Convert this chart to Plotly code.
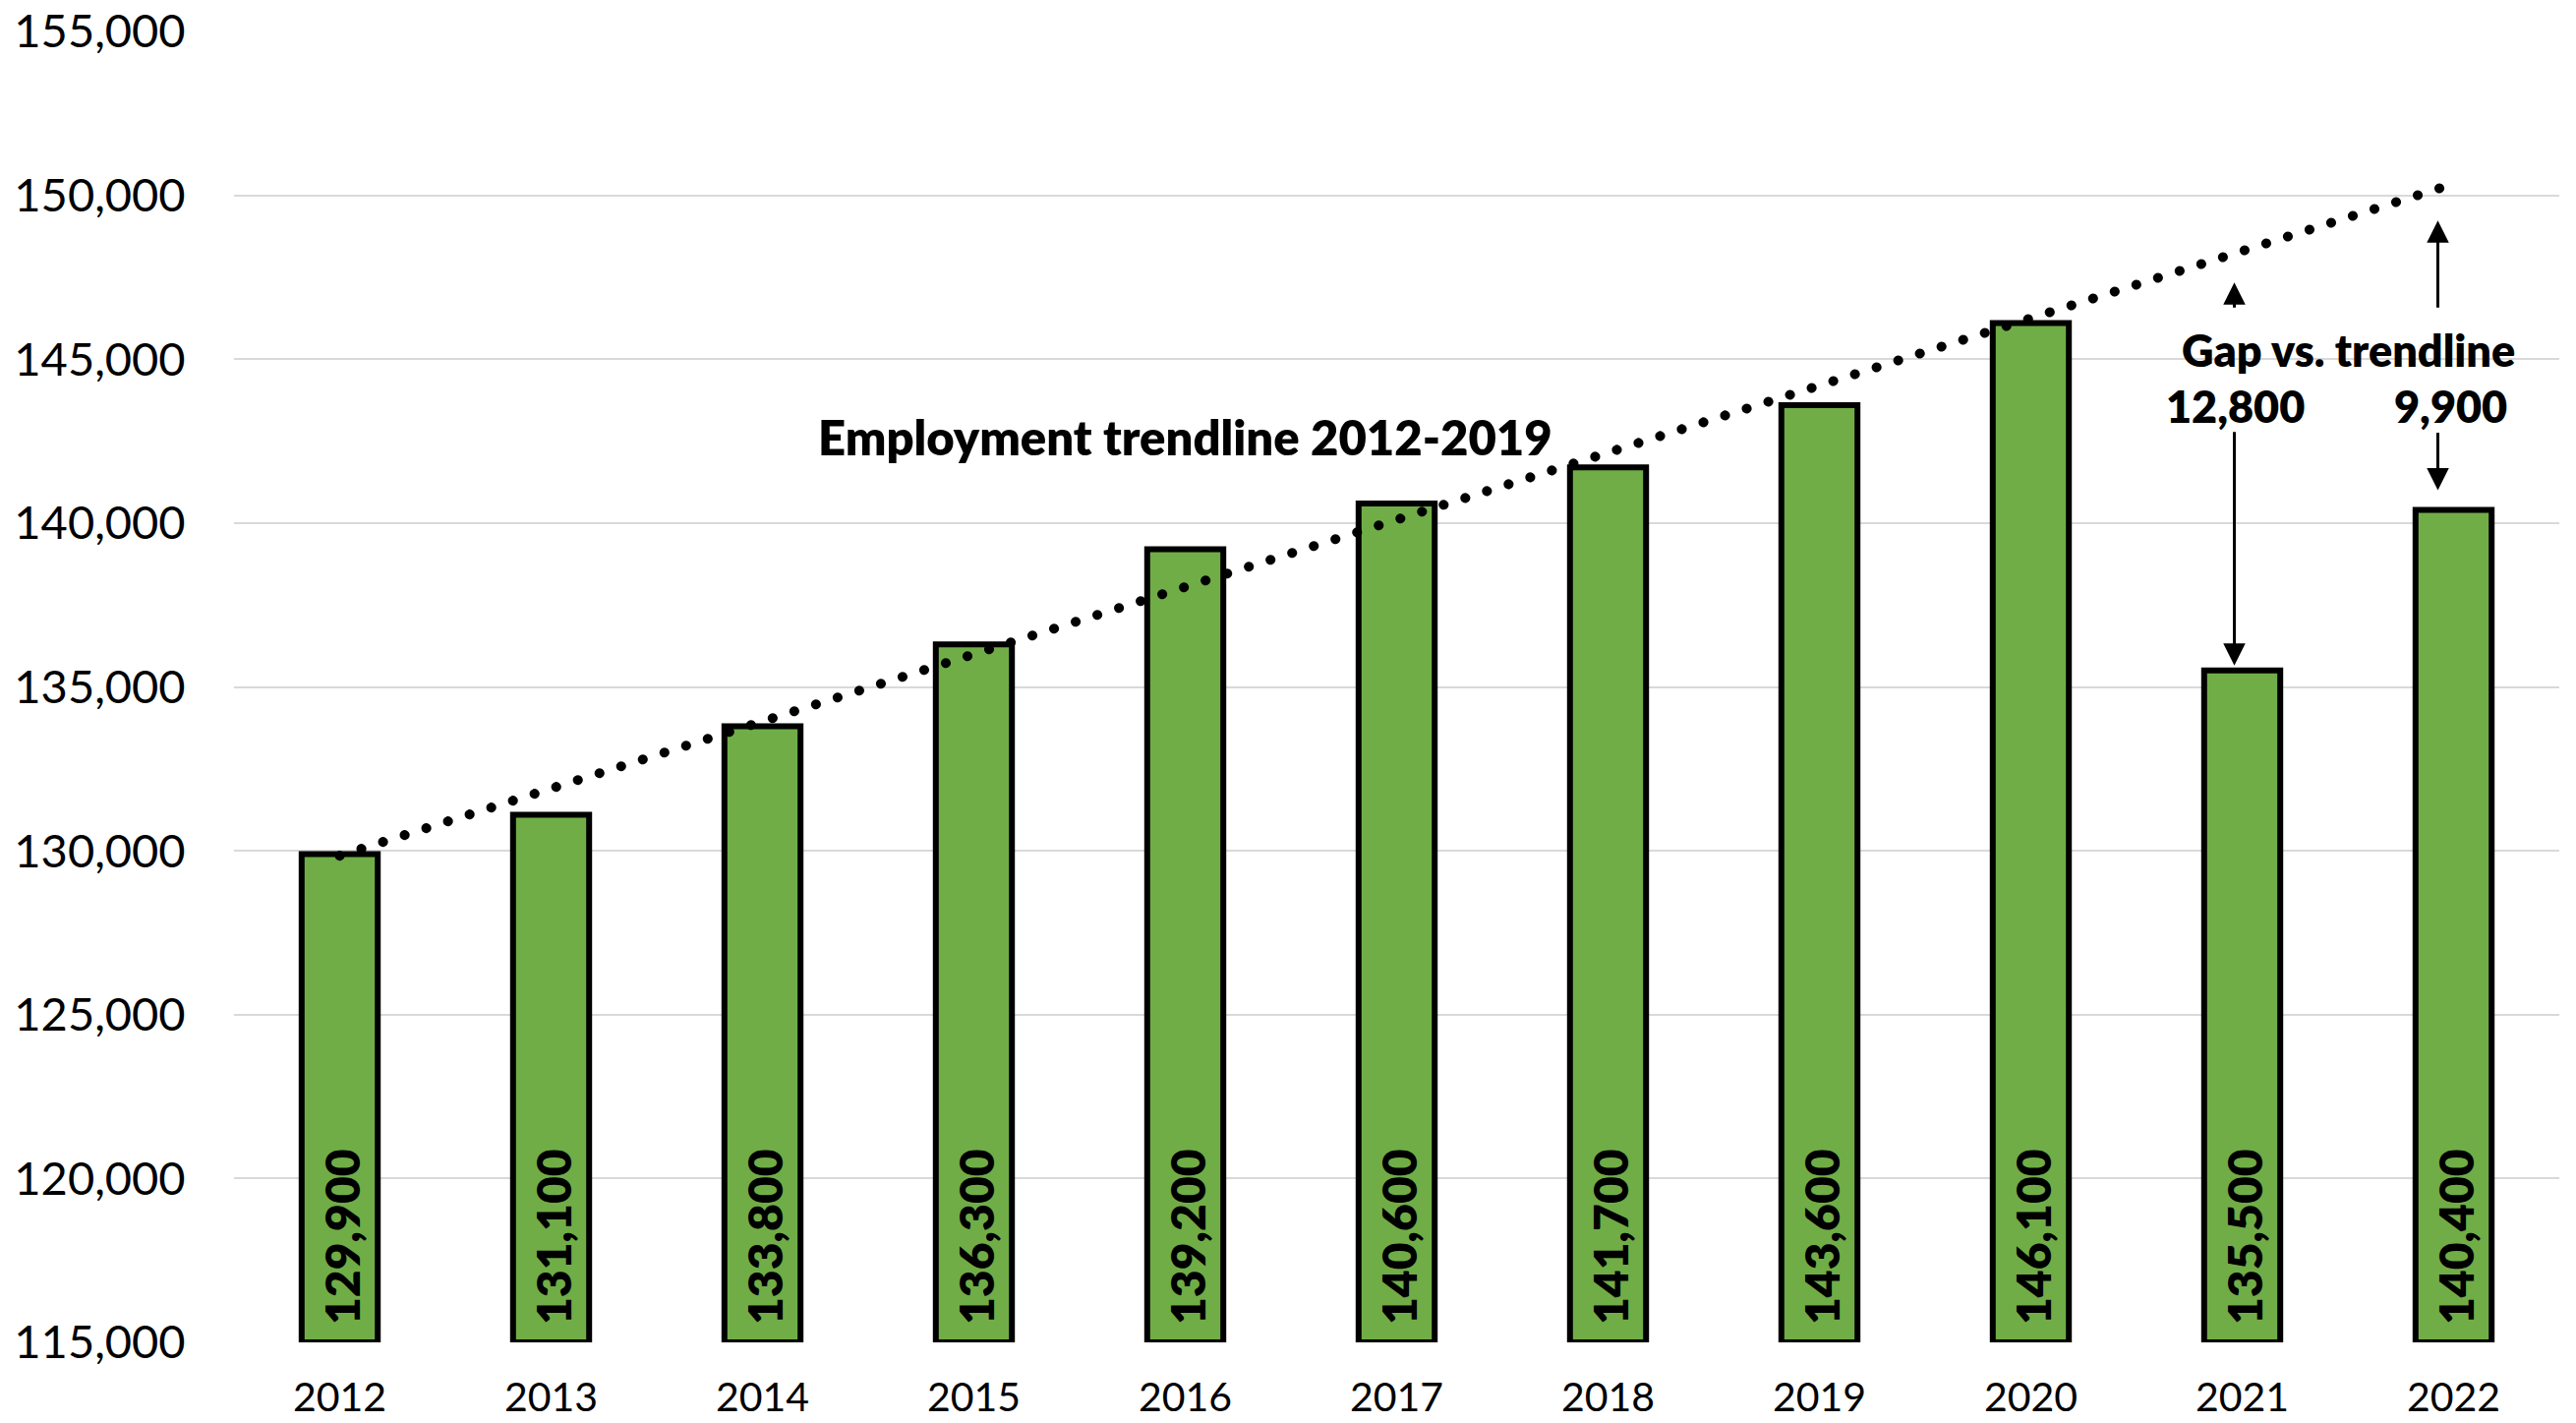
import numpy as np
import plotly.graph_objects as go

# Annual employment, 2012-2022
years = [2012, 2013, 2014, 2015, 2016, 2017, 2018, 2019, 2020, 2021, 2022]
employment = [129900, 131100, 133800, 136300, 139200, 140600, 141700, 143600, 146100, 135500, 140400]

# Axis settings
BASE = 115000
y_ticks = list(range(115000, 155001, 5000))

# Trendline fitted on 2012-2019, extended through 2022
fit_years = years[:8]
fit_vals = employment[:8]
slope, intercept = np.polyfit(fit_years, fit_vals, 1)
trend = [slope * y + intercept for y in years]
gap_2021 = 12800
gap_2022 = 9900

FONT = "Lato"
GREEN = "#70AD47"

fig = go.Figure()

fig.add_bar(
    x=years,
    y=[v - BASE for v in employment],
    base=BASE,
    width=0.36,
    marker=dict(color=GREEN, line=dict(color="black", width=6)),
    hoverinfo="skip",
)

fig.add_scatter(
    x=years,
    y=trend,
    mode="lines",
    line=dict(color="black", width=10, dash="9px,14px"),
    hoverinfo="skip",
    cliponaxis=False,
)

annotations = []

# Value labels inside the bars, rotated
for yr, v in zip(years, employment):
    annotations.append(dict(
        x=yr, y=BASE, xref="x", yref="y",
        text=f"{v:,}", textangle=-90,
        showarrow=False, yanchor="bottom", xanchor="center",
        yshift=16, xshift=2,
        font=dict(family=FONT, size=48, color="black", weight=800),
    ))

annotations.append(dict(
    x=2016, y=142630, text="Employment trendline 2012-2019",
    showarrow=False, xanchor="center", yanchor="middle",
    font=dict(family=FONT, size=49, color="black", weight=800),
))
annotations.append(dict(
    x=2021.5, y=145270, text="Gap vs. trendline",
    showarrow=False, xanchor="center", yanchor="middle",
    font=dict(family=FONT, size=45, color="black", weight=800),
))
annotations.append(dict(
    x=2021, y=143560, text=f"{gap_2021:,}", xshift=-7,
    showarrow=False, xanchor="center", yanchor="middle",
    font=dict(family=FONT, size=45, color="black", weight=800),
))
annotations.append(dict(
    x=2022, y=143560, text=f"{gap_2022:,}", xshift=-3,
    showarrow=False, xanchor="center", yanchor="middle",
    font=dict(family=FONT, size=45, color="black", weight=800),
))

arrow = dict(showarrow=True, arrowhead=2, arrowsize=1.5, arrowwidth=3,
             arrowcolor="black", ax=0, text="")
# 2021: up toward the trendline, down to the bar
annotations.append(dict(arrow, x=2021, y=147340, ay=27, xshift=-8))
annotations.append(dict(arrow, x=2021, y=employment[9], ay=-244, standoff=5, xshift=-8))
# 2022: up toward the trendline, down to the bar
annotations.append(dict(arrow, x=2022, y=149230, ay=90, xshift=-16))
annotations.append(dict(arrow, x=2022, y=employment[10], ay=-80, standoff=20, xshift=-16))

fig.update_layout(
    width=2620, height=1447,
    margin=dict(l=238, r=17, t=32, b=82),
    paper_bgcolor="white", plot_bgcolor="white",
    showlegend=False,
    annotations=annotations,
    font=dict(family=FONT, color="black"),
)

fig.update_xaxes(
    range=[2011.5, 2022.5],
    tickvals=years,
    ticktext=[str(y) for y in years],
    showgrid=False, zeroline=False, showline=False,
    ticks="outside", ticklen=20, tickcolor="rgba(0,0,0,0)",
    tickfont=dict(family=FONT, size=41, color="black"),
    automargin=False,
)
fig.update_yaxes(
    range=[115000, 155000],
    tickvals=y_ticks,
    tickformat=",",
    showgrid=True, gridcolor="#d9d9d9", gridwidth=2,
    zeroline=False, showline=False,
    ticks="outside", ticklen=39, tickcolor="rgba(0,0,0,0)",
    tickfont=dict(family=FONT, size=47, color="black"),
    automargin=False,
)

# Round the trendline dots
post = """
var gd = document.getElementById('{plot_id}');
function roundDots(){
  gd.querySelectorAll('.scatterlayer .trace path.js-line').forEach(function(p){
    p.style.strokeLinecap = 'round';
    p.style.strokeDasharray = '0.1px,23px';
  });
}
roundDots();
gd.on('plotly_afterplot', roundDots);
"""

fig.write_html("out.html", post_script=post)
